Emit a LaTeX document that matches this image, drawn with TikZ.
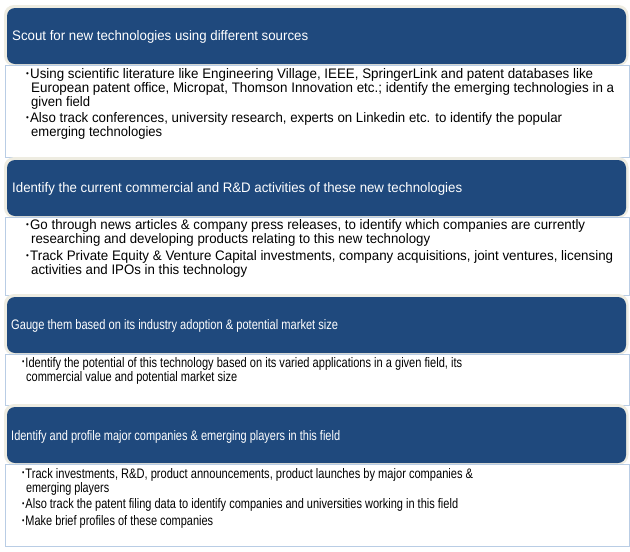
\documentclass[tikz,border=0pt]{standalone}
\usepackage{fontspec}
\setmainfont{Liberation Sans}
\usepackage{graphicx}
\definecolor{hdrblue}{HTML}{1F497D}
\definecolor{hdrglow}{HTML}{EEECE1}
\definecolor{bodyline}{HTML}{B9CDE5}
\newcommand\bul{\raisebox{0.32ex}{\scalebox{0.6}{•}}\hspace{1.2pt}}
\newcommand\tline[6][txt]{\node[#1] (#2) at (#3,#4) {\resizebox{#5pt}{\height}{#6}};}
\newcommand\stagebox[3]{%
  \fill[hdrglow, rounded corners=10pt] (4,#2-3) rectangle (628.5,#2+58);
  \node[hdrbox, minimum width=619pt, minimum height=56pt] (#1h) at (7,#2) {};
  \node[bodybox, minimum width=624pt, minimum height=#3-#2-57] (#1b) at (5,#2+57) {};
}
\begin{document}
\begin{tikzpicture}[x=1pt,y=-1pt,
  txt/.style={anchor=base west, inner sep=0pt, font=\fontsize{13.8}{14}\selectfont, text=black},
  htxt/.style={txt, text=white},
  hdrbox/.style={anchor=north west, rectangle, rounded corners=8pt, fill=hdrblue, inner sep=0pt, outer sep=0pt},
  bodybox/.style={anchor=north west, rectangle, fill=white, draw=bodyline, line width=1pt, inner sep=0pt, outer sep=0pt}]
\useasboundingbox (0,0) rectangle (630,552);
\fill[white] (0,0) rectangle (630,552);

% Stage 1
\stagebox{s1}{8}{157}
\tline[htxt]{s1t}{12}{40.5}{296}{Scout for new technologies using different sources}
\tline{s1a}{26}{78.5}{567}{\bul Using scientific literature like Engineering Village, IEEE, SpringerLink and patent databases like}
\tline{s1b}{31}{92.5}{583}{European patent office, Micropat, Thomson Innovation etc.; identify the emerging technologies in a}
\tline{s1c}{31}{106.5}{59}{given field}
\tline{s1d}{26}{122.5}{536}{\bul Also track conferences, university research, experts on Linkedin etc. to identify the popular}
\tline{s1e}{31}{136.5}{131}{emerging technologies}

% Stage 2
\stagebox{s2}{160}{295}
\tline[htxt]{s2t}{12}{192}{450}{Identify the current commercial and R\&D activities of these new technologies}
\tline{s2a}{26}{229.5}{559}{\bul Go through news articles \& company press releases, to identify which companies are currently}
\tline{s2b}{31}{243.5}{399}{researching and developing products relating to this new technology}
\tline{s2c}{26}{260.5}{587}{\bul Track Private Equity \& Venture Capital investments, company acquisitions, joint ventures, licensing}
\tline{s2d}{31}{274}{216}{activities and IPOs in this technology}

% Stage 3
\stagebox{s3}{297}{405}
\tline[htxt]{s3t}{11}{329.5}{327}{Gauge them based on its industry adoption \& potential market size}
\tline{s3a}{22}{367.3}{440}{\bul Identify the potential of this technology based on its varied applications in a given field, its}
\tline{s3b}{26}{381}{211}{commercial value and potential market size}

% Stage 4
\stagebox{s4}{407}{546}
\tline[htxt]{s4t}{11}{440}{329}{Identify and profile major companies \& emerging players in this field}
\tline{s4a}{22}{478.3}{451}{\bul Track investments, R\&D, product announcements, product launches by major companies \&}
\tline{s4b}{26}{492}{83}{emerging players}
\tline{s4c}{22}{508.7}{436}{\bul Also track the patent filing data to identify companies and universities working in this field}
\tline{s4d}{22}{525.7}{191}{\bul Make brief profiles of these companies}
\end{tikzpicture}
\end{document}
